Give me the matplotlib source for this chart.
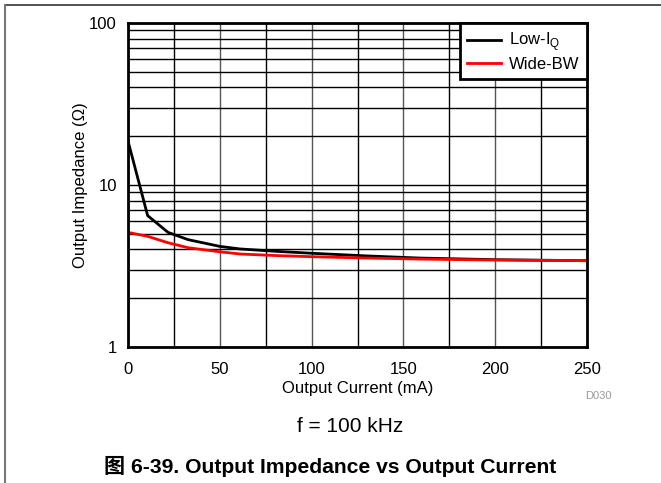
import matplotlib
matplotlib.use('Agg')
import matplotlib.pyplot as plt
from matplotlib.lines import Line2D

plt.rcParams['font.family'] = ['Liberation Sans', 'Noto Sans CJK SC', 'DejaVu Sans']

# Output current (mA) and output impedance (ohm)
current_low = [0, 10.7, 21.8, 32.7, 50, 61, 80, 100, 130, 159, 200, 250]
z_low = [18.7, 6.47, 5.1, 4.6, 4.18, 4.03, 3.9, 3.79, 3.65, 3.54, 3.46, 3.41]

current_wide = [0, 10.7, 21.8, 32.7, 50, 61, 80, 100, 130, 159, 200, 250]
z_wide = [5.1, 4.82, 4.4, 4.1, 3.87, 3.75, 3.67, 3.61, 3.54, 3.49, 3.44, 3.41]

x_ticks = [0, 50, 100, 150, 200, 250]
y_ticks = [1, 10, 100]
y_tick_labels = ['1', '10', '100']

fig = plt.figure(figsize=(6.61, 4.83), dpi=100)
ax = fig.add_axes([128 / 661, 136 / 483, 459 / 661, 324 / 483])

ax.plot(current_low, z_low, color='black', lw=2, label='Low-I$_\\mathregular{Q}$')
ax.plot(current_wide, z_wide, color='red', lw=2, label='Wide-BW')

ax.set_yscale('log')
ax.set_xlim(0, 250)
ax.set_ylim(1, 100)
ax.set_xticks(x_ticks)
ax.set_xticks(range(0, 251, 25), minor=True)
ax.set_yticks(y_ticks)
ax.set_yticklabels(y_tick_labels)
ax.tick_params(which='both', length=0, labelsize=12)
ax.tick_params(axis='x', pad=11)
ax.tick_params(axis='y', pad=8)
ax.grid(True, which='both', color='black', lw=1)
ax.grid(True, which='major', axis='x', color='#555555', lw=1)

for s in ax.spines.values():
    s.set_linewidth(2)

ax.set_xlabel('Output Current (mA)', fontsize=12, labelpad=3)
ax.set_ylabel('Output Impedance (\u03a9)', fontsize=12, labelpad=1)

leg = ax.legend(loc='upper right', fontsize=12, frameon=True, fancybox=False,
                borderaxespad=0, handlelength=2.0, handletextpad=0.5,
                borderpad=0.45, labelspacing=0.2)
leg.get_frame().set_edgecolor('black')
leg.get_frame().set_linewidth(2)
leg.get_frame().set_alpha(1)

fig.text(598 / 661, 1 - 396 / 483, 'D030', fontsize=8, color='#999999', ha='center', va='center')
fig.text(350 / 661, 1 - 427 / 483, 'f = 100 kHz', fontsize=15, ha='center', va='center')
fig.text(330 / 661, 1 - 466 / 483, '图 6-39. Output Impedance vs Output Current',
         fontsize=15.2, fontweight='bold', ha='center', va='center')

# page frame lines (top and left)
fig.add_artist(Line2D([5 / 661, 1], [1 - 5 / 483, 1 - 5 / 483], color='#333333', lw=1.2,
                      transform=fig.transFigure))
fig.add_artist(Line2D([5 / 661, 5 / 661], [0, 1 - 5 / 483], color='#777777', lw=1.5,
                      transform=fig.transFigure))

fig.savefig('out.png', dpi=100)
